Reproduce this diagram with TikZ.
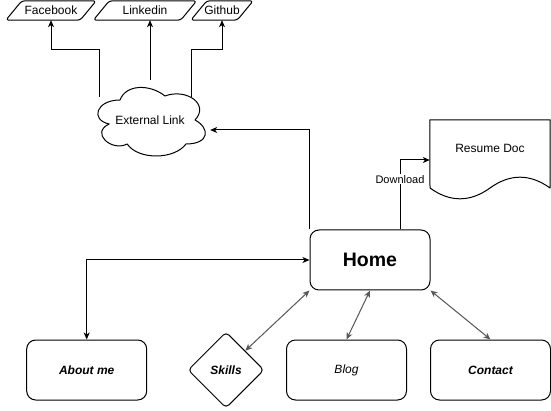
\documentclass[tikz,border=0pt]{standalone}
\usepackage{fontspec}
\setmainfont{Liberation Sans}
\usetikzlibrary{arrows.meta,shapes.geometric,calc}
\begin{document}
\begin{tikzpicture}[x=1pt,y=-1pt,
  every node/.style={font=\fontsize{12}{14}\selectfont, inner sep=0pt},
  outline/.style={draw, line width=1pt, line join=round},
  pagebox/.style={outline, rounded corners=9pt, minimum width=120pt, minimum height=60pt},
  linkbox/.style={minimum height=19pt},
  tip/.style={-{Stealth[length=7pt,width=6pt,inset=2pt]}},
  link/.style={line width=1pt, tip},
  twoway/.style={line width=1pt, {Stealth[length=7pt,width=6pt,inset=2pt]}-{Stealth[length=7pt,width=6pt,inset=2pt]}},
  soft/.style={twoway, draw=black!65, fill=black!75},
  edgetext/.style={fill=white, inner sep=1pt, font=\fontsize{11}{13}\selectfont}
]
\useasboundingbox (0,0) rectangle (551,411);

% social link parallelograms
\node[linkbox, minimum width=74pt] (fb) at (51,10.5) {Facebook};
\node[linkbox, minimum width=87pt] (li) at (145,10.5) {Linkedin};
\node[linkbox, minimum width=46pt] (gh) at (222,10.5) {Github};
\foreach \n in {fb,li,gh}
  \draw[outline, rounded corners=3pt]
    ($(\n.south west)+(-8,0)$) -- ($(\n.north west)+(8,0)$) --
    ($(\n.north east)+(8,0)$) -- ($(\n.south east)+(-8,0)$) -- cycle;

% external link cloud
\node[minimum width=120pt, minimum height=80pt] (cloud) at (150,120) {External Link};
\draw[outline]
  (120,100) .. controls (96,100) and (90,120) .. (109.2,124)
  .. controls (90,132.8) and (111.6,152) .. (127.2,144)
  .. controls (138,160) and (174,160) .. (186,144)
  .. controls (210,144) and (210,128) .. (195,120)
  .. controls (210,104) and (186,88) .. (165,96)
  .. controls (150,84) and (126,84) .. (120,100) -- cycle;
\coordinate (cl-fb) at ($(cloud.north west)+(10,17)$);
\coordinate (cl-li) at (cloud.north);
\coordinate (cl-gh) at ($(cloud.north west)+(102,17)$);
\coordinate (cl-in) at ($(cloud.east)+(0,10)$);

% resume document
\node[minimum width=120pt, minimum height=80pt] (doc) at (490,160) {};
\draw[outline] (doc.north west) -- (doc.north east) -- (550,188)
  .. controls (530,173.6) and (510,173.6) .. (490,188)
  .. controls (470,202.4) and (450,202.4) .. (430,188) -- cycle;
\node (doctext) at ($(doc.center)+(0,-12)$) {Resume Doc};

% pages
\node[pagebox, font=\fontsize{19.5}{22}\selectfont\bfseries] (home) at (370,260) {Home};
\node[pagebox, font=\fontsize{12}{14}\selectfont\bfseries\itshape] (about) at (86.7,370) {About me};
\node[outline, diamond, aspect=1, minimum width=76pt, minimum height=76pt,
      rounded corners=4pt, font=\fontsize{12}{14}\selectfont\bfseries\itshape] (skills) at (226,370) {Skills};
\node[pagebox, font=\fontsize{12}{14}\selectfont\itshape] (blog) at (346.5,370) {Blog};
\node[pagebox, font=\fontsize{12}{14}\selectfont\bfseries\itshape] (contact) at (490.5,370) {Contact};

% connectors
\draw[link] (cl-fb) -- ++(0,-47) -| (fb.south);
\draw[link] (cl-li) -- (cl-li |- li.south);
\draw[link] (cl-gh) -- ++(0,-47) -| (gh.south);
\draw[link] (home.north west) |- (cl-in);
\draw[link] ($(home.north)+(30,0)$) |- node[edgetext, pos=0.36] {Download} (doc.west);
\draw[twoway] (about.north) |- (home.west);
\draw[soft] (home.south west) -- (skills.north east);
\draw[soft] (home.south) -- (blog.north);
\draw[soft] (home.south east) -- (contact.north);
\end{tikzpicture}
\end{document}
